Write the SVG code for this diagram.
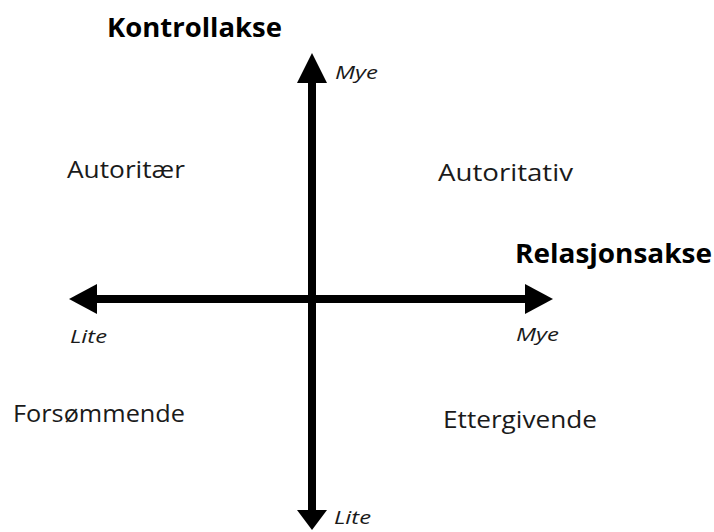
<svg xmlns="http://www.w3.org/2000/svg" width="714" height="532" viewBox="0 0 714 532">
<style>
.t{font-family:"Open Sans","Liberation Sans",sans-serif;fill:#1a1a1a}
.b{font-weight:bold;font-size:27px;fill:#000}
.n{font-size:23.5px}
.i{font-style:italic;font-size:19px}
.ax{stroke:#000;stroke-width:8;fill:none}
</style>
<rect width="714" height="532" fill="#fff"/>
<g id="connectors">
<line class="ax" x1="312" y1="80" x2="312" y2="512"/>
<polygon points="312,53 297,83 327,83" fill="#000"/>
<polygon points="312,530 297,510 327,510" fill="#000"/>
<line class="ax" x1="95" y1="299" x2="527" y2="299"/>
<polygon points="69,299 97,284 97,314" fill="#000"/>
<polygon points="553,299 525,284 525,314" fill="#000"/>
</g>
<g id="kontrollakse"><text class="t b" x="107" y="37" textLength="175" lengthAdjust="spacingAndGlyphs">Kontrollakse</text></g>
<g id="relasjonsakse"><text class="t b" x="515" y="263" textLength="197" lengthAdjust="spacingAndGlyphs">Relasjonsakse</text></g>
<g id="mye-top"><text class="t i" x="335" y="79" textLength="43" lengthAdjust="spacingAndGlyphs">Mye</text></g>
<g id="lite-left"><text class="t i" x="70" y="343" textLength="37" lengthAdjust="spacingAndGlyphs">Lite</text></g>
<g id="mye-right"><text class="t i" x="516" y="341" textLength="43" lengthAdjust="spacingAndGlyphs">Mye</text></g>
<g id="lite-bottom"><text class="t i" x="334" y="524" textLength="37" lengthAdjust="spacingAndGlyphs">Lite</text></g>
<g id="autoritaer"><text class="t n" x="67" y="178" textLength="118" lengthAdjust="spacingAndGlyphs">Autoritær</text></g>
<g id="autoritativ"><text class="t n" x="438" y="181" textLength="135" lengthAdjust="spacingAndGlyphs">Autoritativ</text></g>
<g id="forsommende"><text class="t n" x="13" y="422" textLength="172" lengthAdjust="spacingAndGlyphs">Forsømmende</text></g>
<g id="ettergivende"><text class="t n" x="443" y="428" textLength="154" lengthAdjust="spacingAndGlyphs">Ettergivende</text></g>
</svg>
